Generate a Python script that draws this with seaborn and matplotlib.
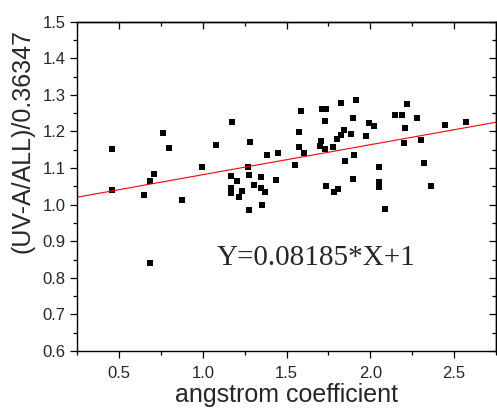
import matplotlib
matplotlib.use("Agg")
import matplotlib.pyplot as plt
from matplotlib.ticker import MultipleLocator, FormatStrFormatter, NullFormatter
import seaborn as sns
import pandas as pd

# ---- data ----
angstrom = [0.458, 0.458, 0.651, 0.687, 0.711, 0.687, 0.763, 0.799, 0.877, 0.993,
            1.076, 1.175, 1.279, 1.166, 1.166, 1.166, 1.203, 1.217, 1.234, 1.268,
            1.276, 1.274, 1.307, 1.346, 1.349, 1.369, 1.356, 1.381, 1.437, 1.448,
            1.552, 1.573, 1.587, 1.575, 1.606, 1.703, 1.702, 1.714, 1.733, 1.727,
            1.730, 1.737, 1.775, 1.783, 1.799, 1.809, 1.823, 1.824, 1.845, 1.847,
            1.883, 1.895, 1.917, 1.903, 1.895, 1.976, 1.995, 2.022, 2.054, 2.052,
            2.052, 2.087, 2.151, 2.187, 2.221, 2.208, 2.202, 2.281, 2.305, 2.322,
            2.362, 2.446, 2.570]
ratio = [1.152, 1.039, 1.026, 1.065, 1.085, 0.840, 1.195, 1.156, 1.013, 1.103,
         1.162, 1.225, 1.172, 1.077, 1.046, 1.032, 1.065, 1.022, 1.038, 1.103,
         1.080, 0.985, 1.054, 1.075, 1.045, 1.034, 0.998, 1.136, 1.067, 1.141,
         1.108, 1.198, 1.256, 1.158, 1.141, 1.173, 1.159, 1.261, 1.261, 1.228,
         1.153, 1.050, 1.158, 1.034, 1.180, 1.044, 1.279, 1.190, 1.205, 1.119,
         1.193, 1.238, 1.285, 1.137, 1.071, 1.188, 1.222, 1.215, 1.102, 1.061,
         1.048, 0.987, 1.244, 1.244, 1.274, 1.209, 1.169, 1.236, 1.177, 1.113,
         1.052, 1.218, 1.227]
slope = 0.08185
intercept = 1.0
equation = "Y=0.08185*X+1"
x_label = "angstrom coefficient"
y_label = "(UV-A/ALL)/0.36347"

df = pd.DataFrame({"x": angstrom, "y": ratio})

sns.set_style("ticks")
plt.rcParams["font.family"] = ["Liberation Sans", "DejaVu Sans"]

fig = plt.figure(figsize=(4.97, 4.09), dpi=100)
ax = fig.add_axes([0.1555, 0.1418, 0.842, 0.8052])

sns.scatterplot(data=df, x="x", y="y", ax=ax, marker="s", s=24,
                color="black", linewidth=0, legend=False)
ax.axline((0, intercept), slope=slope, color="red", lw=0.8)

ax.set_xlim(0.25, 2.75)
ax.set_ylim(0.6, 1.5)


def setup_locators(axis, major, minor, labels=True):
    axis.set_major_locator(MultipleLocator(major))
    axis.set_minor_locator(MultipleLocator(minor))
    if labels:
        axis.set_major_formatter(FormatStrFormatter("%.1f"))
    else:
        axis.set_major_formatter(NullFormatter())
    axis.set_minor_formatter(NullFormatter())


setup_locators(ax.xaxis, 0.5, 0.25)
setup_locators(ax.yaxis, 0.1, 0.05)

# bottom / left ticks point outward
ax.tick_params(which="both", direction="out", top=False, right=False,
               width=0.9, color="black")
ax.tick_params(which="major", length=5)
ax.tick_params(which="minor", length=3)
ax.tick_params(axis="x", which="major", labelsize=12, pad=6)
ax.tick_params(axis="y", which="major", labelsize=12, pad=3.5)

# top / right ticks point inward
top = ax.secondary_xaxis("top")
right = ax.secondary_yaxis("right")
setup_locators(top.xaxis, 0.5, 0.25, labels=False)
setup_locators(right.yaxis, 0.1, 0.05, labels=False)
for sec in (top, right):
    sec.tick_params(which="both", direction="in", width=0.9, color="black")
    sec.tick_params(which="major", length=5)
    sec.tick_params(which="minor", length=3)
    for sp in sec.spines.values():
        sp.set_linewidth(1.0)
        sp.set_color("black")

for sp in ax.spines.values():
    sp.set_visible(True)
    sp.set_linewidth(1.0)
    sp.set_color("black")

ax.set_xlabel(x_label, fontsize=18, labelpad=1.5)
ax.set_ylabel(y_label, fontsize=18)
ax.yaxis.set_label_coords(-0.102, 0.638)

ax.text(1.085, 0.835, equation, fontsize=21, va="baseline", ha="left",
        family=["Liberation Serif", "DejaVu Serif"])

fig.savefig("out.png", dpi=100)
